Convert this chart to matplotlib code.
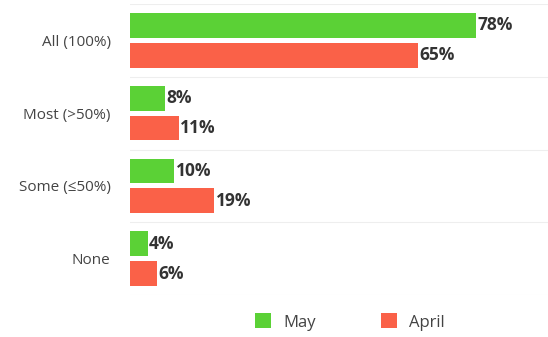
import matplotlib
matplotlib.use("Agg")
import matplotlib.pyplot as plt
from matplotlib.patches import Patch

categories = ["All (100%)", "Most (>50%)", "Some (≤50%)", "None"]
may = [78, 8, 10, 4]
april = [65, 11, 19, 6]
series_names = ["May", "April"]

c_may = "#5bd136"
c_apr = "#fa6148"

plt.rcParams['font.family'] = ['Open Sans', 'DejaVu Sans']

fig = plt.figure(figsize=(5.48, 3.37), dpi=100)
ax = fig.add_axes([130/548, 1-295/337, 418/548, 291/337])

n = len(categories)
pos = list(range(n))
h = 0.34
off = 0.205
ax.barh([p - off for p in pos], may, height=h, color=c_may, zorder=3)
ax.barh([p + off for p in pos], april, height=h, color=c_apr, zorder=3)

for p, v in zip(pos, may):
    ax.text(v + 0.3, p - off, f"{v}%", va="center", ha="left", fontsize=12.5,
            fontweight="bold", color="#333333")
for p, v in zip(pos, april):
    ax.text(v + 0.3, p + off, f"{v}%", va="center", ha="left", fontsize=12.5,
            fontweight="bold", color="#333333")

ax.set_xlim(0, 94.2)
ax.set_ylim(n - 0.5, -0.5)
ax.set_yticks(pos)
ax.set_yticklabels(categories, fontsize=11, color="#444444")
ax.set_xticks([])
ax.tick_params(axis="y", length=0, pad=14)
for s in ax.spines.values():
    s.set_visible(False)
for b in [i - 0.5 for i in range(n + 1)]:
    ax.axhline(b, color="#eeeeee", lw=0.8, zorder=1)

handles = [Patch(facecolor=c_may, label=series_names[0]),
           Patch(facecolor=c_apr, label=series_names[1])]
fig.legend(handles=handles, loc="center", bbox_to_anchor=(350/548, 1-322/337),
           ncol=2, frameon=False, fontsize=12, handlelength=0.95, handleheight=1.0,
           columnspacing=3.9, handletextpad=0.75, labelcolor="#444444")

fig.savefig("out.png", dpi=100)
